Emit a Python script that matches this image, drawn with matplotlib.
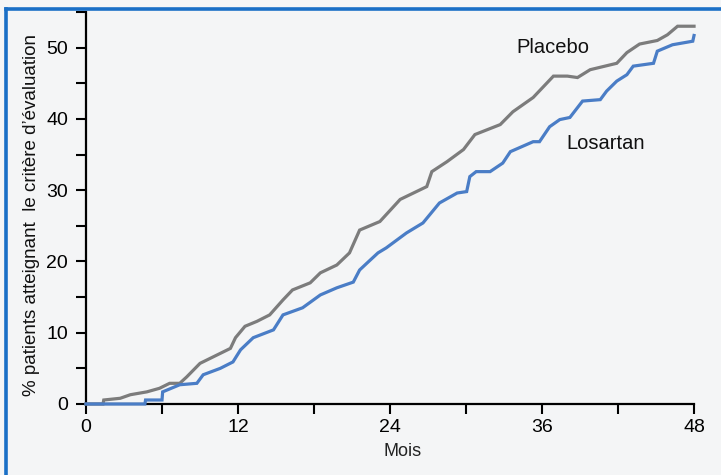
import numpy as np
import matplotlib.pyplot as plt
from matplotlib.lines import Line2D
from matplotlib.ticker import MultipleLocator

# courbes cumulatives (mois, % patients)
mois_placebo = [0, 1.34, 1.4, 2.7, 3.5, 4.8, 5.8, 6.6, 7.4, 7.95, 9.0, 9.8, 10.6,
                11.4, 11.8, 12.55, 13.5, 14.5, 15.55, 16.3, 17.7, 18.5, 19.8, 20.8,
                21.6, 23.2, 24.8, 26.9, 27.3, 28.5, 29.8, 30.7, 32.7, 33.7, 35.3,
                36.9, 38.0, 38.8, 39.8, 41.9, 42.7, 43.7, 45.1, 45.9, 46.7, 48.0]
pct_placebo = [0, 0, 0.56, 0.8, 1.3, 1.7, 2.2, 2.9, 2.9, 3.8, 5.7, 6.4, 7.1,
               7.8, 9.3, 10.9, 11.6, 12.5, 14.6, 16.0, 17.0, 18.4, 19.5, 21.2,
               24.4, 25.6, 28.7, 30.5, 32.6, 34.0, 35.7, 37.8, 39.2, 41.0, 43.0,
               46.0, 46.0, 45.8, 46.9, 47.8, 49.3, 50.5, 51.0, 51.8, 53.0, 53.0]

mois_losartan = [0, 4.65, 4.7, 6.0, 6.05, 7.4, 8.75, 9.25, 10.6, 11.6, 12.2, 13.2,
                 14.8, 15.55, 17.1, 18.5, 19.8, 21.1, 21.6, 22.2, 23.05, 23.7,
                 25.3, 26.6, 27.9, 29.3, 30.05, 30.3, 30.8, 31.9, 32.9, 33.5,
                 35.3, 35.8, 36.6, 37.4, 38.2, 39.2, 40.6, 41.1, 41.9, 42.7, 43.2,
                 44.8, 45.1, 46.3, 47.9, 48.0]
pct_losartan = [0, 0, 0.56, 0.56, 1.7, 2.7, 2.9, 4.1, 5.0, 5.9, 7.6, 9.3,
                10.4, 12.5, 13.5, 15.3, 16.3, 17.1, 18.8, 19.8, 21.2, 21.9,
                24.0, 25.4, 28.2, 29.6, 29.8, 31.9, 32.6, 32.6, 33.8, 35.4,
                36.8, 36.8, 38.9, 39.9, 40.2, 42.5, 42.7, 43.9, 45.3, 46.2, 47.4,
                47.8, 49.5, 50.4, 50.9, 51.7]

plt.rcParams['font.family'] = ['Liberation Sans', 'DejaVu Sans']

fig = plt.figure(figsize=(7.21, 4.75), dpi=100)
fig.patch.set_facecolor('#f4f5f6')
ax = fig.add_axes([0.1193, 0.1495, 0.8433, 0.8253])
ax.set_facecolor('#f4f5f6')

ax.plot(mois_placebo, pct_placebo, color='#7c7c7c', lw=2.3, solid_joinstyle='miter',
        zorder=4, clip_on=False)
ax.plot(mois_losartan, pct_losartan, color='#4a7dc6', lw=2.3, solid_joinstyle='miter',
        zorder=4, clip_on=False)

ax.text(36.87, 50.0, 'Placebo', fontsize=14.5, ha='center', va='center', color='#111111')
ax.text(41.05, 36.5, 'Losartan', fontsize=14.5, ha='center', va='center', color='#111111')

ax.set_xlim(0, 48)
ax.set_ylim(0, 55)
ax.xaxis.set_major_locator(MultipleLocator(12))
ax.xaxis.set_minor_locator(MultipleLocator(6))
ax.yaxis.set_major_locator(MultipleLocator(10))
ax.yaxis.set_minor_locator(MultipleLocator(5))
ax.set_yticks([0, 10, 20, 30, 40, 50])

for s in ['top', 'right']:
    ax.spines[s].set_visible(False)
for s in ['left', 'bottom']:
    ax.spines[s].set_linewidth(1.6)
    ax.spines[s].set_color('black')

ax.tick_params(which='both', direction='out', length=7, width=1.5, colors='black',
               labelsize=14, pad=4)
ax.tick_params(axis='y', pad=6)

ax.set_xlabel('Mois', fontsize=13, color='#222222', labelpad=0)
ax.xaxis.set_label_coords(0.52, -0.1)
ax.set_ylabel('% patients atteignant  le critère d\u2019évaluation', fontsize=13.5,
              color='#111111')
ax.yaxis.set_label_coords(-0.076, 0.482)

# cadre bleu en haut et à gauche
fig.add_artist(Line2D([0.0083, 1.0], [0.981, 0.981], transform=fig.transFigure,
                      color='#1a6fc6', lw=2.6))
fig.add_artist(Line2D([0.0083, 0.0083], [0.0, 0.981], transform=fig.transFigure,
                      color='#1a6fc6', lw=2.6))

fig.savefig('out.png', dpi=100, facecolor=fig.get_facecolor())
